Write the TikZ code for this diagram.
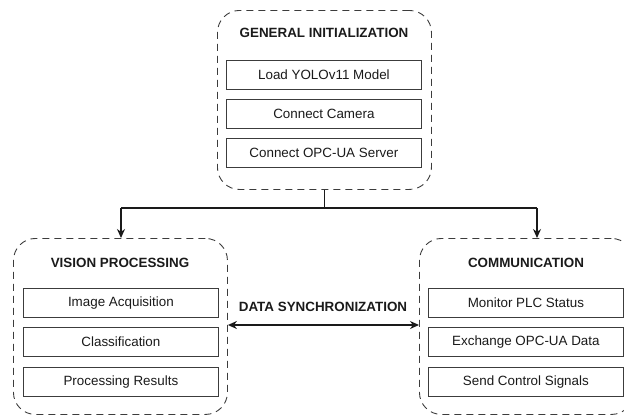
\documentclass[tikz,border=0pt]{standalone}
\usepackage{fontspec}
\setmainfont{Liberation Sans}
\usetikzlibrary{arrows.meta}
\definecolor{ink}{HTML}{1A1A1A}
\definecolor{frame}{HTML}{3C3C3C}
\begin{document}
\begin{tikzpicture}[x=1pt,y=-1pt,
  font=\fontsize{13.4}{16}\selectfont, text=ink,
  group/.style={draw=frame, line width=0.9pt, dash pattern=on 7pt off 5pt,
    rounded corners=22pt, minimum width=214pt, inner sep=0pt, anchor=north west},
  heading/.style={font=\fontsize{13.4}{16}\selectfont\bfseries},
  item/.style={draw=frame, line width=0.8pt, minimum width=195pt, minimum height=29pt,
    inner sep=0pt, anchor=north west},
  link/.style={draw=ink, line width=1.4pt},
  tip/.style={link, -{Stealth[length=9pt,width=8pt]}},
  both/.style={link, {Stealth[length=9pt,width=8pt]}-{Stealth[length=9pt,width=8pt]}}
]
\clip (0,0) rectangle (624,415);

% general initialization block
\node[group, minimum height=179pt] (init) at (217,10) {};
\node[heading] (initT) at (324,33) {GENERAL INITIALIZATION};
\node[item] (i1) at (226,60) {Load YOLOv11 Model};
\node[item] (i2) at (226,99) {Connect Camera};
\node[item] (i3) at (226,138) {Connect OPC-UA Server};

% vision processing block
\node[group, minimum height=176pt] (vis) at (13,238) {};
\node[heading] (visT) at (120,263) {VISION PROCESSING};
\node[item] (v1) at (23,288) {Image Acquisition};
\node[item] (v2) at (23,327) {Classification};
\node[item] (v3) at (23,367) {Processing Results};

% communication block
\node[group, minimum height=176pt] (com) at (419,238) {};
\node[heading] (comT) at (526,263) {COMMUNICATION};
\node[item] (c1) at (428,288) {Monitor PLC Status};
\node[item] (c2) at (428,327) {Exchange OPC-UA Data};
\node[item] (c3) at (428,367) {Send Control Signals};

% distribution from initialization to both blocks
\coordinate (hubL) at (121,208);
\coordinate (hubR) at (537,208);
\draw[link] (init.south) -- (init.south |- hubL);
\draw[link] (hubL) -- (hubR);
\draw[tip] (hubL) -- (hubL |- vis.north);
\draw[tip] (hubR) -- (hubR |- com.north);

% synchronization between vision and communication
\coordinate (sy) at (0,325);
\draw[both] (vis.east |- sy) -- (com.west |- sy);
\node[heading] (syncT) at (323,307) {DATA SYNCHRONIZATION};
\end{tikzpicture}
\end{document}
